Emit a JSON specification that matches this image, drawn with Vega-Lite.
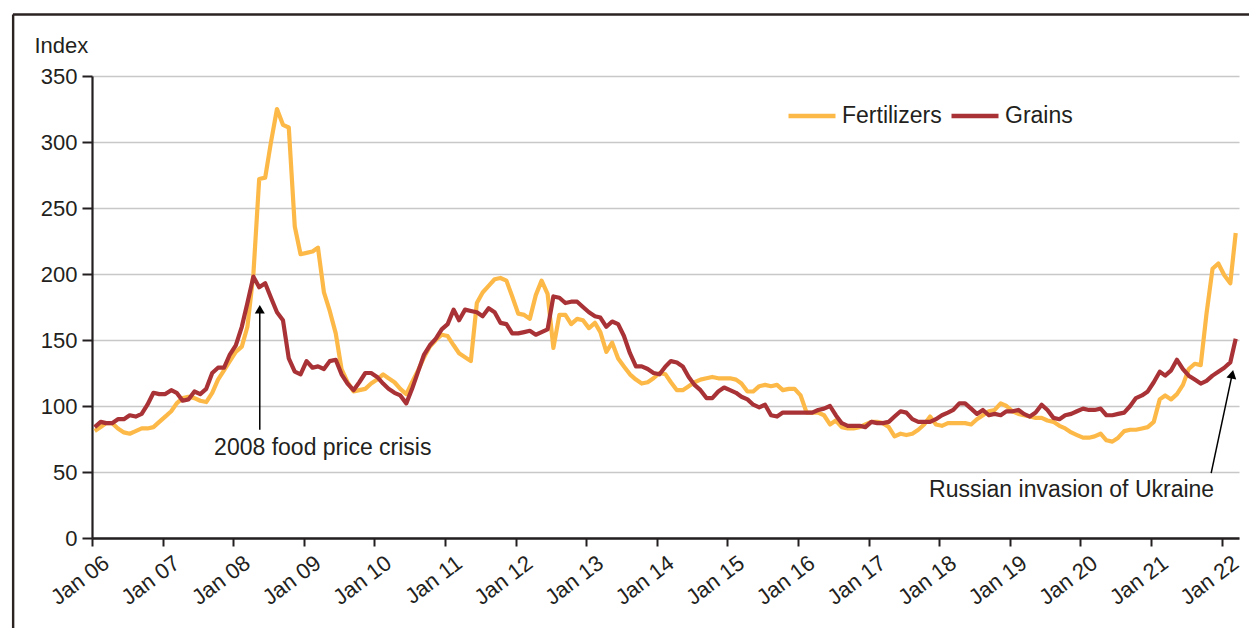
{
  "$schema": "https://vega.github.io/schema/vega-lite/v6.json",
  "width": 1147,
  "height": 462,
  "autosize": {"type": "none"},
  "padding": {"left": 92, "top": 76, "right": 10, "bottom": 90},
  "background": "white",
  "config": {
    "view": {"stroke": null},
    "font": "Liberation Sans",
    "legend": {"padding": 0}
  },
  "datasets": {
    "prices": [
      {"month":"2006-01-15","Fertilizers":81,"Grains":84},{"month":"2006-02-15","Fertilizers":84,"Grains":88},{"month":"2006-03-15","Fertilizers":87,"Grains":87},{"month":"2006-04-15","Fertilizers":87,"Grains":87},{"month":"2006-05-15","Fertilizers":83,"Grains":90},{"month":"2006-06-15","Fertilizers":80,"Grains":90},{"month":"2006-07-15","Fertilizers":79,"Grains":93},{"month":"2006-08-15","Fertilizers":81,"Grains":92},{"month":"2006-09-15","Fertilizers":83,"Grains":94},{"month":"2006-10-15","Fertilizers":83,"Grains":101},{"month":"2006-11-15","Fertilizers":84,"Grains":110},{"month":"2006-12-15","Fertilizers":88,"Grains":109},
      {"month":"2007-01-15","Fertilizers":92,"Grains":109},{"month":"2007-02-15","Fertilizers":96,"Grains":112},{"month":"2007-03-15","Fertilizers":102,"Grains":110},{"month":"2007-04-15","Fertilizers":106,"Grains":104},{"month":"2007-05-15","Fertilizers":107,"Grains":105},{"month":"2007-06-15","Fertilizers":106,"Grains":111},{"month":"2007-07-15","Fertilizers":104,"Grains":109},{"month":"2007-08-15","Fertilizers":103,"Grains":113},{"month":"2007-09-15","Fertilizers":110,"Grains":125},{"month":"2007-10-15","Fertilizers":120,"Grains":129},{"month":"2007-11-15","Fertilizers":127,"Grains":129},{"month":"2007-12-15","Fertilizers":134,"Grains":139},
      {"month":"2008-01-15","Fertilizers":141,"Grains":146},{"month":"2008-02-15","Fertilizers":145,"Grains":160},{"month":"2008-03-15","Fertilizers":160,"Grains":178},{"month":"2008-04-15","Fertilizers":200,"Grains":198},{"month":"2008-05-15","Fertilizers":272,"Grains":190},{"month":"2008-06-15","Fertilizers":273,"Grains":193},{"month":"2008-07-15","Fertilizers":300,"Grains":182},{"month":"2008-08-15","Fertilizers":325,"Grains":171},{"month":"2008-09-15","Fertilizers":313,"Grains":165},{"month":"2008-10-15","Fertilizers":311,"Grains":136},{"month":"2008-11-15","Fertilizers":236,"Grains":126},{"month":"2008-12-15","Fertilizers":215,"Grains":124},
      {"month":"2009-01-15","Fertilizers":216,"Grains":134},{"month":"2009-02-15","Fertilizers":217,"Grains":129},{"month":"2009-03-15","Fertilizers":220,"Grains":130},{"month":"2009-04-15","Fertilizers":186,"Grains":128},{"month":"2009-05-15","Fertilizers":172,"Grains":134},{"month":"2009-06-15","Fertilizers":155,"Grains":135},{"month":"2009-07-15","Fertilizers":128,"Grains":124},{"month":"2009-08-15","Fertilizers":118,"Grains":117},{"month":"2009-09-15","Fertilizers":111,"Grains":112},{"month":"2009-10-15","Fertilizers":112,"Grains":118},{"month":"2009-11-15","Fertilizers":113,"Grains":125},{"month":"2009-12-15","Fertilizers":117,"Grains":125},
      {"month":"2010-01-15","Fertilizers":120,"Grains":122},{"month":"2010-02-15","Fertilizers":124,"Grains":117},{"month":"2010-03-15","Fertilizers":121,"Grains":113},{"month":"2010-04-15","Fertilizers":118,"Grains":110},{"month":"2010-05-15","Fertilizers":113,"Grains":108},{"month":"2010-06-15","Fertilizers":109,"Grains":102},{"month":"2010-07-15","Fertilizers":118,"Grains":113},{"month":"2010-08-15","Fertilizers":127,"Grains":126},{"month":"2010-09-15","Fertilizers":137,"Grains":139},{"month":"2010-10-15","Fertilizers":145,"Grains":146},{"month":"2010-11-15","Fertilizers":150,"Grains":151},{"month":"2010-12-15","Fertilizers":154,"Grains":158},
      {"month":"2011-01-15","Fertilizers":153,"Grains":162},{"month":"2011-02-15","Fertilizers":146,"Grains":173},{"month":"2011-03-15","Fertilizers":140,"Grains":165},{"month":"2011-04-15","Fertilizers":137,"Grains":173},{"month":"2011-05-15","Fertilizers":134,"Grains":172},{"month":"2011-06-15","Fertilizers":178,"Grains":171},{"month":"2011-07-15","Fertilizers":186,"Grains":168},{"month":"2011-08-15","Fertilizers":191,"Grains":174},{"month":"2011-09-15","Fertilizers":196,"Grains":171},{"month":"2011-10-15","Fertilizers":197,"Grains":163},{"month":"2011-11-15","Fertilizers":195,"Grains":162},{"month":"2011-12-15","Fertilizers":183,"Grains":155},
      {"month":"2012-01-15","Fertilizers":170,"Grains":155},{"month":"2012-02-15","Fertilizers":169,"Grains":156},{"month":"2012-03-15","Fertilizers":166,"Grains":157},{"month":"2012-04-15","Fertilizers":184,"Grains":154},{"month":"2012-05-15","Fertilizers":195,"Grains":156},{"month":"2012-06-15","Fertilizers":185,"Grains":158},{"month":"2012-07-15","Fertilizers":144,"Grains":183},{"month":"2012-08-15","Fertilizers":169,"Grains":182},{"month":"2012-09-15","Fertilizers":169,"Grains":178},{"month":"2012-10-15","Fertilizers":162,"Grains":179},{"month":"2012-11-15","Fertilizers":166,"Grains":179},{"month":"2012-12-15","Fertilizers":165,"Grains":175},
      {"month":"2013-01-15","Fertilizers":159,"Grains":171},{"month":"2013-02-15","Fertilizers":163,"Grains":168},{"month":"2013-03-15","Fertilizers":156,"Grains":167},{"month":"2013-04-15","Fertilizers":141,"Grains":160},{"month":"2013-05-15","Fertilizers":148,"Grains":164},{"month":"2013-06-15","Fertilizers":136,"Grains":162},{"month":"2013-07-15","Fertilizers":130,"Grains":153},{"month":"2013-08-15","Fertilizers":124,"Grains":140},{"month":"2013-09-15","Fertilizers":120,"Grains":130},{"month":"2013-10-15","Fertilizers":117,"Grains":130},{"month":"2013-11-15","Fertilizers":118,"Grains":128},{"month":"2013-12-15","Fertilizers":121,"Grains":125},
      {"month":"2014-01-15","Fertilizers":125,"Grains":124},{"month":"2014-02-15","Fertilizers":124,"Grains":130},{"month":"2014-03-15","Fertilizers":118,"Grains":134},{"month":"2014-04-15","Fertilizers":112,"Grains":133},{"month":"2014-05-15","Fertilizers":112,"Grains":130},{"month":"2014-06-15","Fertilizers":115,"Grains":122},{"month":"2014-07-15","Fertilizers":118,"Grains":116},{"month":"2014-08-15","Fertilizers":120,"Grains":112},{"month":"2014-09-15","Fertilizers":121,"Grains":106},{"month":"2014-10-15","Fertilizers":122,"Grains":106},{"month":"2014-11-15","Fertilizers":121,"Grains":111},{"month":"2014-12-15","Fertilizers":121,"Grains":114},
      {"month":"2015-01-15","Fertilizers":121,"Grains":112},{"month":"2015-02-15","Fertilizers":120,"Grains":110},{"month":"2015-03-15","Fertilizers":117,"Grains":107},{"month":"2015-04-15","Fertilizers":111,"Grains":105},{"month":"2015-05-15","Fertilizers":111,"Grains":101},{"month":"2015-06-15","Fertilizers":115,"Grains":99},{"month":"2015-07-15","Fertilizers":116,"Grains":101},{"month":"2015-08-15","Fertilizers":115,"Grains":93},{"month":"2015-09-15","Fertilizers":116,"Grains":92},{"month":"2015-10-15","Fertilizers":112,"Grains":95},{"month":"2015-11-15","Fertilizers":113,"Grains":95},{"month":"2015-12-15","Fertilizers":113,"Grains":95},
      {"month":"2016-01-15","Fertilizers":108,"Grains":95},{"month":"2016-02-15","Fertilizers":95,"Grains":95},{"month":"2016-03-15","Fertilizers":95,"Grains":95},{"month":"2016-04-15","Fertilizers":95,"Grains":97},{"month":"2016-05-15","Fertilizers":93,"Grains":98},{"month":"2016-06-15","Fertilizers":86,"Grains":100},{"month":"2016-07-15","Fertilizers":89,"Grains":93},{"month":"2016-08-15","Fertilizers":84,"Grains":87},{"month":"2016-09-15","Fertilizers":83,"Grains":85},{"month":"2016-10-15","Fertilizers":83,"Grains":85},{"month":"2016-11-15","Fertilizers":84,"Grains":85},{"month":"2016-12-15","Fertilizers":86,"Grains":84},
      {"month":"2017-01-15","Fertilizers":88,"Grains":88},{"month":"2017-02-15","Fertilizers":88,"Grains":87},{"month":"2017-03-15","Fertilizers":87,"Grains":87},{"month":"2017-04-15","Fertilizers":84,"Grains":88},{"month":"2017-05-15","Fertilizers":77,"Grains":92},{"month":"2017-06-15","Fertilizers":79,"Grains":96},{"month":"2017-07-15","Fertilizers":78,"Grains":95},{"month":"2017-08-15","Fertilizers":79,"Grains":90},{"month":"2017-09-15","Fertilizers":82,"Grains":88},{"month":"2017-10-15","Fertilizers":86,"Grains":88},{"month":"2017-11-15","Fertilizers":92,"Grains":88},{"month":"2017-12-15","Fertilizers":86,"Grains":90},
      {"month":"2018-01-15","Fertilizers":85,"Grains":93},{"month":"2018-02-15","Fertilizers":87,"Grains":95},{"month":"2018-03-15","Fertilizers":87,"Grains":97},{"month":"2018-04-15","Fertilizers":87,"Grains":102},{"month":"2018-05-15","Fertilizers":87,"Grains":102},{"month":"2018-06-15","Fertilizers":86,"Grains":98},{"month":"2018-07-15","Fertilizers":90,"Grains":94},{"month":"2018-08-15","Fertilizers":93,"Grains":97},{"month":"2018-09-15","Fertilizers":96,"Grains":93},{"month":"2018-10-15","Fertilizers":97,"Grains":94},{"month":"2018-11-15","Fertilizers":102,"Grains":93},{"month":"2018-12-15","Fertilizers":100,"Grains":96},
      {"month":"2019-01-15","Fertilizers":96,"Grains":96},{"month":"2019-02-15","Fertilizers":94,"Grains":97},{"month":"2019-03-15","Fertilizers":93,"Grains":94},{"month":"2019-04-15","Fertilizers":92,"Grains":92},{"month":"2019-05-15","Fertilizers":91,"Grains":95},{"month":"2019-06-15","Fertilizers":91,"Grains":101},{"month":"2019-07-15","Fertilizers":89,"Grains":97},{"month":"2019-08-15","Fertilizers":88,"Grains":91},{"month":"2019-09-15","Fertilizers":85,"Grains":90},{"month":"2019-10-15","Fertilizers":83,"Grains":93},{"month":"2019-11-15","Fertilizers":80,"Grains":94},{"month":"2019-12-15","Fertilizers":78,"Grains":96},
      {"month":"2020-01-15","Fertilizers":76,"Grains":98},{"month":"2020-02-15","Fertilizers":76,"Grains":97},{"month":"2020-03-15","Fertilizers":77,"Grains":97},{"month":"2020-04-15","Fertilizers":79,"Grains":98},{"month":"2020-05-15","Fertilizers":74,"Grains":93},{"month":"2020-06-15","Fertilizers":73,"Grains":93},{"month":"2020-07-15","Fertilizers":76,"Grains":94},{"month":"2020-08-15","Fertilizers":81,"Grains":95},{"month":"2020-09-15","Fertilizers":82,"Grains":100},{"month":"2020-10-15","Fertilizers":82,"Grains":106},{"month":"2020-11-15","Fertilizers":83,"Grains":108},{"month":"2020-12-15","Fertilizers":84,"Grains":111},
      {"month":"2021-01-15","Fertilizers":88,"Grains":118},{"month":"2021-02-15","Fertilizers":105,"Grains":126},{"month":"2021-03-15","Fertilizers":108,"Grains":123},{"month":"2021-04-15","Fertilizers":105,"Grains":127},{"month":"2021-05-15","Fertilizers":109,"Grains":135},{"month":"2021-06-15","Fertilizers":116,"Grains":128},{"month":"2021-07-15","Fertilizers":128,"Grains":123},{"month":"2021-08-15","Fertilizers":132,"Grains":120},{"month":"2021-09-15","Fertilizers":131,"Grains":117},{"month":"2021-10-15","Fertilizers":170,"Grains":119},{"month":"2021-11-15","Fertilizers":204,"Grains":123},{"month":"2021-12-15","Fertilizers":208,"Grains":126},
      {"month":"2022-01-15","Fertilizers":199,"Grains":129},{"month":"2022-02-15","Fertilizers":193,"Grains":133},{"month":"2022-03-15","Fertilizers":231,"Grains":151}
    ]
  },
  "layer": [
    {
      "data": {"values": [{}]},
      "mark": {"type": "rule", "color": "#2b2222", "strokeWidth": 2.4, "clip": false},
      "encoding": {
        "x": {"datum": {"year": 2004, "month": 11, "date": 19, "utc": true}, "type": "temporal"},
        "y": {"datum": -80, "type": "quantitative"},
        "y2": {"datum": 396.6}
      }
    },
    {
      "data": {"values": [{}]},
      "mark": {"type": "rule", "color": "#2b2222", "strokeWidth": 2.4, "clip": false},
      "encoding": {
        "x": {"datum": {"year": 2004, "month": 11, "date": 18, "utc": true}, "type": "temporal"},
        "x2": {"datum": {"year": 2022, "month": 8, "date": 1, "utc": true}},
        "y": {"datum": 396.6, "type": "quantitative"}
      }
    },
    {
      "data": {"name": "prices"},
      "transform": [{"fold": ["Fertilizers", "Grains"], "as": ["series", "value"]}],
      "mark": {"type": "line", "strokeWidth": 4.2, "strokeJoin": "round"},
      "encoding": {
        "x": {
          "field": "month",
          "type": "temporal",
          "scale": {"type": "utc", "domain": [{"year": 2006, "month": 1, "date": 1, "utc": true}, {"year": 2022, "month": 4, "date": 1, "utc": true}]},
          "axis": {
            "title": null,
            "format": "%b %y",
            "tickCount": {"interval": "year", "step": 1},
            "grid": false,
            "labelAngle": -37,
            "labelAlign": "right",
            "labelBaseline": "middle",
            "labelOffset": 14,
            "labelPadding": 14,
            "labelFontSize": 22,
            "labelColor": "#231f20",
            "labelOverlap": false,
            "labelFlush": false,
            "labelBound": false,
            "tickSize": 8,
            "tickWidth": 2,
            "tickColor": "#231f20",
            "domainColor": "#231f20",
            "domainWidth": 2.5
          }
        },
        "y": {
          "field": "value",
          "type": "quantitative",
          "scale": {"domain": [0, 350], "nice": false, "zero": true},
          "axis": {
            "values": [0, 50, 100, 150, 200, 250, 300, 350],
            "grid": true,
            "gridColor": "#c8c8c8",
            "gridWidth": 1.3,
            "domainColor": "#231f20",
            "domainWidth": 2.2,
            "tickColor": "#231f20",
            "tickWidth": 2,
            "tickSize": 10,
            "labelFontSize": 22,
            "labelColor": "#231f20",
            "labelPadding": 5,
            "title": "Index",
            "titleAngle": 0,
            "titleX": -58,
            "titleY": -31,
            "titleAlign": "left",
            "titleBaseline": "middle",
            "titleFontSize": 22,
            "titleFontWeight": "normal",
            "titleColor": "#231f20"
          }
        },
        "color": {
          "field": "series",
          "type": "nominal",
          "scale": {"domain": ["Fertilizers", "Grains"], "range": ["#fdb947", "#a83236"]},
          "legend": {
            "title": null,
            "orient": "none",
            "legendX": 694,
            "legendY": 14,
            "direction": "horizontal",
            "symbolType": "stroke",
            "symbolSize": 2209,
            "symbolStrokeWidth": 4.5,
            "labelFontSize": 23,
            "labelColor": "#231f20",
            "labelOffset": 4,
            "columnPadding": 0
          }
        }
      }
    },
    {
      "data": {"values": [
        {"start": "2008-05-18", "low": 82, "end": "2008-05-18", "high": 173.3},
        {"start": "2021-11-08", "low": 49.2, "end": "2022-02-25", "high": 124.1}
      ]},
      "mark": {"type": "rule", "color": "#000000", "strokeWidth": 1.5},
      "encoding": {
        "x": {"field": "start", "type": "temporal"},
        "x2": {"field": "end"},
        "y": {"field": "low", "type": "quantitative"},
        "y2": {"field": "high"}
      }
    },
    {
      "data": {"values": [{"tip": "2008-05-18", "level": 173.3}]},
      "mark": {"type": "point", "shape": "triangle-up", "filled": true, "size": 100, "color": "#000000", "opacity": 1},
      "encoding": {
        "x": {"field": "tip", "type": "temporal"},
        "y": {"field": "level", "type": "quantitative"}
      }
    },
    {
      "data": {"values": [{"tip": "2022-02-25", "level": 124.1}]},
      "mark": {"type": "point", "shape": "triangle-up", "filled": true, "size": 100, "angle": 12, "color": "#000000", "opacity": 1},
      "encoding": {
        "x": {"field": "tip", "type": "temporal"},
        "y": {"field": "level", "type": "quantitative"}
      }
    },
    {
      "data": {"values": [
        {"label": "2008 food price crisis", "at": "2009-04-09", "level": 68.2},
        {"label": "Russian invasion of Ukraine", "at": "2019-11-17", "level": 36.4}
      ]},
      "mark": {"type": "text", "fontSize": 23, "color": "#231f20", "align": "center", "baseline": "middle"},
      "encoding": {
        "x": {"field": "at", "type": "temporal"},
        "y": {"field": "level", "type": "quantitative"},
        "text": {"field": "label"}
      }
    }
  ]
}
